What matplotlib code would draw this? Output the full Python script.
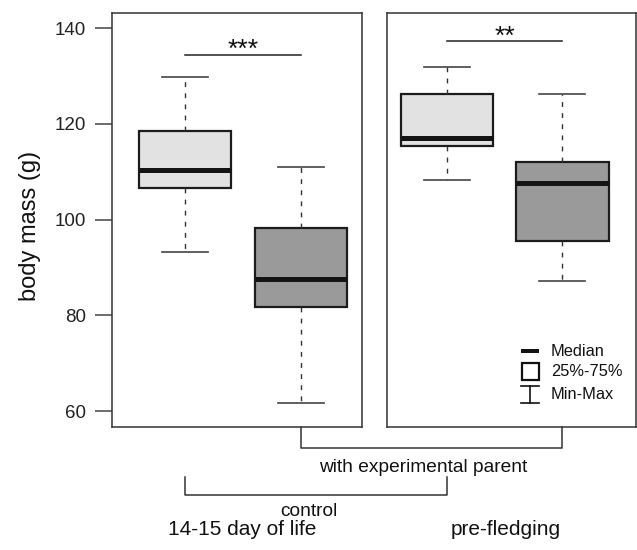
import matplotlib
matplotlib.use("Agg")
import matplotlib.pyplot as plt
from matplotlib.patches import Rectangle

plt.rcParams['font.family'] = ['Liberation Sans', 'DejaVu Sans']

# ---- data ----
panels = ["14-15 day of life", "pre-fledging"]
groups = ["control", "with experimental parent"]
# per panel: [control, experimental]
whislo = [[93.3, 61.8], [108.3, 87.2]]
q1 = [[106.5, 81.7], [115.4, 95.5]]
med = [[110.4, 87.6], [117.0, 107.7]]
q3 = [[118.5, 98.2], [126.3, 112.0]]
whishi = [[129.7, 111.0], [131.8, 126.2]]
sig_labels = ["***", "**"]
sig_levels = [134.35, 137.2]
yticks = [60, 80, 100, 120, 140]
legend_labels = ["Median", "25%-75%", "Min-Max"]

fills = ["#e2e2e2", "#9a9a9a"]

W, H = 637, 550
fig = plt.figure(figsize=(W / 100, H / 100), dpi=100)

def px_axes(x0, y0, x1, y1):
    return fig.add_axes([x0 / W, 1 - y1 / H, (x1 - x0) / W, (y1 - y0) / H])

ax_l = px_axes(112, 12.7, 361.5, 426.5)
ax_r = px_axes(386.5, 12.7, 635.5, 426.5)
xlims = [(0.365, 2.526), (0.474, 2.634)]

for i, ax in enumerate([ax_l, ax_r]):
    stats = []
    for j in range(2):
        stats.append(dict(med=med[i][j], q1=q1[i][j], q3=q3[i][j],
                          whislo=whislo[i][j], whishi=whishi[i][j],
                          fliers=[], label=groups[j]))
    bp = ax.bxp(stats, positions=[1, 2], widths=0.8, capwidths=0.4,
                patch_artist=True, showfliers=False,
                boxprops=dict(edgecolor="#1c1c1c", linewidth=1.6),
                medianprops=dict(color="#141414", linewidth=3.6, solid_capstyle='butt'),
                whiskerprops=dict(color="#333333", linewidth=1.0, linestyle=(0, (3.5, 4.5))),
                capprops=dict(color="#444444", linewidth=1.2))
    for patch, fc in zip(bp['boxes'], fills):
        patch.set_facecolor(fc)
    ax.set_xlim(*xlims[i])
    ax.set_ylim(56.8, 143.2)
    ax.set_xticks([])
    for s in ax.spines.values():
        s.set_color("#333333")
        s.set_linewidth(1.1)
    # significance bar
    ax.plot([1, 2], [sig_levels[i], sig_levels[i]], color="#222222", lw=1.1)
    ax.annotate(sig_labels[i], xy=(1.5, sig_levels[i]), xytext=(0, -1.5),
                textcoords='offset points', ha='center', va='baseline',
                fontsize=19, color="#111111")

ax_l.set_yticks(yticks)
ax_l.tick_params(axis='y', direction='out', length=12.5, width=1.1, color="#444444",
                 pad=6, labelsize=13.5, labelcolor="#222222")
ax_r.set_yticks([])

# ---- overlay in pixel units for brackets, labels, legend ----
ov = fig.add_axes([0, 0, 1, 1])
ov.set_xlim(0, W)
ov.set_ylim(H, 0)
ov.axis('off')

def xpix(ax, pos):
    return ax.transData.transform((pos, 0))[0]

lc = "#333333"
# experimental-parent bracket (position 2 in both panels)
xa, xb = xpix(ax_l, 2), xpix(ax_r, 2)
ov.plot([xa, xa, xb, xb], [427, 448, 448, 427], color=lc, lw=1.1)
ov.text(423, 472.3, groups[1], ha='center', va='baseline', fontsize=13.8, color="#111111")
# control bracket (position 1 in both panels)
xa, xb = xpix(ax_l, 1), xpix(ax_r, 1)
ov.plot([xa, xa, xb, xb], [476.5, 494.5, 494.5, 476.5], color=lc, lw=1.1)
ov.text(308.7, 515.5, groups[0], ha='center', va='baseline', fontsize=13.8, color="#111111")

# panel labels
ov.text(242.3, 535, panels[0], ha='center', va='baseline', fontsize=15, color="#111111")
ov.text(505.3, 535, panels[1], ha='center', va='baseline', fontsize=15, color="#111111")

# y label
ov.text(30, 226, "body mass (g)", rotation=90, ha='center', va='center',
        fontsize=17, color="#111111")

# legend
ov.add_patch(Rectangle((520.7, 348.6), 18.6, 4.4, facecolor="#141414", edgecolor='none'))
ov.add_patch(Rectangle((521.5, 362.8), 17.2, 17.6, facecolor="white", edgecolor="#111111", lw=1.6))
ov.plot([521, 539], [386, 386], color="#111111", lw=1.2)
ov.plot([521, 539], [403.3, 403.3], color="#111111", lw=1.2)
ov.plot([530, 530], [386, 403.3], color="#111111", lw=1.2)
for lab, yc in zip(legend_labels, [351.7, 371.7, 394.3]):
    ov.text(551, yc, lab, ha='left', va='center', fontsize=11.8, color="#111111")

fig.savefig("out.png", dpi=100)
